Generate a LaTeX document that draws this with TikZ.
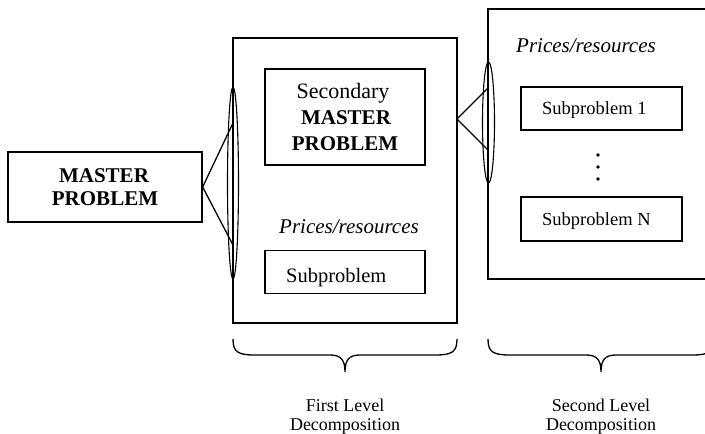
\documentclass[tikz,border=0pt]{standalone}
\usepackage{fontspec}
\setmainfont{Liberation Serif}
\usetikzlibrary{shapes.geometric}
\begin{document}
\begin{tikzpicture}[x=1pt,y=-1pt,
  ln/.style={line width=1.3pt},
  boxr/.style={draw,ln,rectangle,inner sep=0pt},
  ell/.style={draw,line width=1.1pt,ellipse,inner sep=0pt},
  bigbold/.style={font=\fontsize{21}{25}\selectfont\bfseries,anchor=base,inner sep=0pt},
  reg/.style={font=\fontsize{22}{25}\selectfont,anchor=base,inner sep=0pt},
  ital/.style={font=\fontsize{21}{25}\selectfont\itshape,anchor=base,inner sep=0pt},
  subl/.style={font=\fontsize{20.5}{23}\selectfont,anchor=base west,inner sep=0pt},
  subs/.style={font=\fontsize{18.5}{22}\selectfont,anchor=base west,inner sep=0pt},
  captxt/.style={font=\fontsize{18}{22}\selectfont,anchor=base,inner sep=0pt},
  dotc/.style={fill=black,circle,inner sep=0pt,minimum size=3.6pt}
]
\useasboundingbox (0,0) rectangle (705,434);
\begin{scope}
\clip (0,0) rectangle (705,434);
% boxes
\node[boxr,minimum width=194pt,minimum height=70pt] (master) at (105,187) {};
\node[boxr,minimum width=224pt,minimum height=285pt] (box1) at (345,180.5) {};
\coordinate (b2tr) at (720,9);
\coordinate (b2tl) at (488,9);
\coordinate (b2bl) at (488,279);
\coordinate (b2br) at (720,279);
\draw[ln] (b2tr) -- (b2tl) -- (b2bl) -- (b2br);
\node[boxr,minimum width=160pt,minimum height=96pt] (sec) at (345,117) {};
\node[boxr,minimum width=160pt,minimum height=43pt] (sub) at (345,272) {};
\node[boxr,minimum width=161pt,minimum height=43pt] (sub1) at (601.5,108.5) {};
\node[boxr,minimum width=161pt,minimum height=44pt] (subn) at (601.5,219) {};
% texts
\node[bigbold] (mt1) at (104,182) {MASTER};
\node[bigbold] (mt2) at (105,205) {PROBLEM};
\node[reg] (st1) at (343,98) {Secondary};
\node[bigbold] (st2) at (346,124) {MASTER};
\node[bigbold] (st3) at (345,150) {PROBLEM};
\node[ital] (pr1) at (349,233) {Prices/resources};
\node[ital] (pr2) at (586,52) {Prices/resources};
\node[subl] (subt) at (286,282) {Subproblem};
\node[subs] (sub1t) at (542,114) {Subproblem 1};
\node[subs] (subnt) at (542,225) {Subproblem N};
\node[dotc] (d1) at (598,155) {};
\node[dotc] (d2) at (598,167) {};
\node[dotc] (d3) at (598,179) {};
% ellipses
\node[ell,minimum width=11pt,minimum height=192pt] (e1) at (233,183) {};
\node[ell,minimum width=12pt,minimum height=121pt] (e2) at (488.5,122.5) {};
% connectors
\coordinate (a1) at (233,123);
\coordinate (a2) at (233,245);
\coordinate (b0) at (457,119);
\coordinate (b1) at (488,88);
\coordinate (b2) at (488,150);
\draw[ln] (a1) -- (master.east) -- (a2);
\draw[ln] (b1) -- (b0) -- (b2);
% braces
\draw[ln] (233,339) .. controls (233,352) and (238,355) .. (255,355) -- (330,355)
  .. controls (341,355) and (345,360) .. (345,372)
  .. controls (345,360) and (349,355) .. (360,355) -- (435,355)
  .. controls (452,355) and (457,352) .. (457,339);
\draw[ln] (488,339) .. controls (488,352) and (493,355) .. (510,355) -- (586,355)
  .. controls (597,355) and (601,360) .. (601,372)
  .. controls (601,360) and (605,355) .. (616,355) -- (692,355)
  .. controls (709,355) and (714,352) .. (714,339);
\node[captxt] (c1a) at (345,411) {First Level};
\node[captxt] (c1b) at (345,430) {Decomposition};
\node[captxt] (c2a) at (601,411) {Second Level};
\node[captxt] (c2b) at (601,430) {Decomposition};
\end{scope}
\end{tikzpicture}
\end{document}
